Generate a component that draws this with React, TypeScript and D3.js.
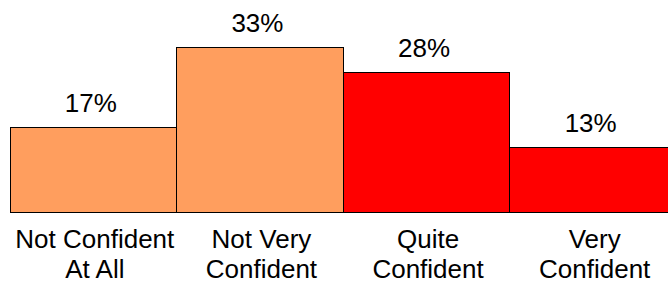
import React from "react"
import { scaleBand, scaleLinear } from "d3"

const width = 668
const height = 289

const categories = ["Not Confident At All", "Not Very Confident", "Quite Confident", "Very Confident"]
const labelLines = [["Not Confident", "At All"], ["Not Very", "Confident"], ["Quite", "Confident"], ["Very", "Confident"]]
const values = [17, 33, 28, 13]
const colors = ["#FF9E5E", "#FF9E5E", "#FF0000", "#FF0000"]

const font = "'Liberation Sans', Arial, sans-serif"

export default function App() {
  const baseline = 212
  const x = scaleBand<string>().domain(categories).range([9.5, 676]).padding(0)
  const y = scaleLinear().domain([0, 40]).range([baseline, baseline - 40 * 4.99])

  return (
    <svg
      width={width}
      height={height}
      style={{ position: "absolute", left: 0, top: 0, background: "#fff" }}
    >
      {categories.map((c, i) => {
        const x0 = Math.round(x(c)!) + 0.5
        const x1 = Math.round(x(c)! + x.bandwidth()) + 0.5
        const top = Math.round(y(values[i])) + 0.5
        const cx = x(c)! + x.bandwidth() / 2
        return (
          <g key={c}>
            <rect
              x={x0}
              y={top}
              width={x1 - x0}
              height={baseline + 0.5 - top}
              style={{ fill: colors[i], stroke: "#000", strokeWidth: 1 }}
            />
            <text
              x={cx - 2}
              y={top - 15.5}
              textAnchor="middle"
              style={{ fontFamily: font, fontSize: 26, fill: "#000" }}
            >
              {values[i]}%
            </text>
            <text
              x={cx + 2}
              textAnchor="middle"
              style={{ fontFamily: font, fontSize: 26, fill: "#000" }}
            >
              {labelLines[i].map((line, j) => (
                <tspan key={line} x={cx + 2} y={248 + j * 30}>
                  {line}
                </tspan>
              ))}
            </text>
          </g>
        )
      })}
    </svg>
  )
}
